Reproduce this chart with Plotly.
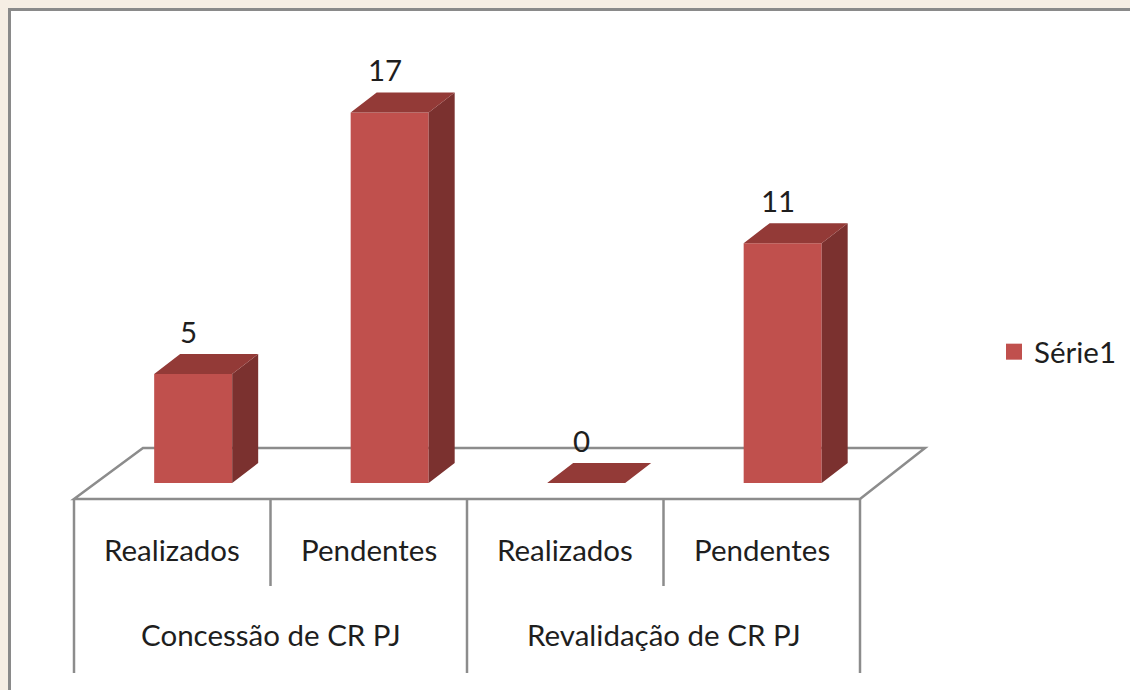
import plotly.graph_objects as go

# ---- data ----
groups = ["Concessão de CR PJ", "Revalidação de CR PJ"]
subcats = ["Realizados", "Pendentes", "Realizados", "Pendentes"]
values = [5, 17, 0, 11]
series_name = "Série1"

# ---- style / geometry ----
W, H = 1130, 690
FONT = "Lato"
FS = 29.5
TXT = "#1e1e1e"
FRONT = "#C0504D"
TOP = "#933A37"
SIDE = "#7B312F"
GRID = "#8c8c8c"

BAR_W = 0.397
BAR_OFF = -0.092
DX = 0.1323       # depth offset (x units)
DY = 0.917        # depth offset (y units)
FLOOR_FRONT = -0.734
FLOOR_BACK = 1.606
FLOOR_DXL, FLOOR_DXR = 0.351, 0.331
SUB_BOTTOM = -4.725
GRP_BOTTOM = -8.716
SUB_LABEL_Y = -3.07
GRP_LABEL_Y = -6.97

idx = list(range(len(values)))

fig = go.Figure()

# front faces
fig.add_trace(go.Bar(x=idx, y=values, width=BAR_W, offset=BAR_OFF,
                     marker=dict(color=FRONT, line=dict(width=0)),
                     showlegend=False, hoverinfo="skip"))

# top & side faces computed from the values
tx, ty, sx, sy = [], [], [], []
for i, v in zip(idx, values):
    l = i + BAR_OFF
    r = l + BAR_W
    tx += [l, r, r + DX, l + DX, l, None]
    ty += [v, v, v + DY, v + DY, v, None]
    if v > 0:
        sx += [r, r, r + DX, r + DX, r, None]
        sy += [0, v, v + DY, DY, 0, None]
fig.add_trace(go.Scatter(x=sx, y=sy, fill="toself", fillcolor=SIDE, mode="lines",
                         line=dict(width=0), showlegend=False, hoverinfo="skip"))
fig.add_trace(go.Scatter(x=tx, y=ty, fill="toself", fillcolor=TOP, mode="lines",
                         line=dict(width=0), showlegend=False, hoverinfo="skip"))

# legend entry
fig.add_trace(go.Scatter(x=[None], y=[None], mode="markers", name=series_name,
                         marker=dict(symbol="square", size=16, color=FRONT)))

shapes = []
# white chart box
shapes.append(dict(type="rect", xref="paper", yref="paper", layer="below",
                   x0=9.5 / W, x1=1.02, y0=-0.02, y1=1 - 9.5 / H,
                   fillcolor="white", line=dict(color="#8a8a8a", width=3)))
# floor
n = len(values)
x_l, x_r = -0.5, n - 0.5
shapes.append(dict(type="path", layer="below", xref="x", yref="y",
                   path=f"M{x_l},{FLOOR_FRONT} L{x_r},{FLOOR_FRONT} L{x_r + FLOOR_DXR},{FLOOR_BACK} "
                        f"L{x_l + FLOOR_DXL},{FLOOR_BACK} Z",
                   line=dict(color=GRID, width=2.5)))
# category table lines
per_group = n // len(groups)
for k in range(n + 1):
    xb = k - 0.5
    bottom = GRP_BOTTOM if k % per_group == 0 else SUB_BOTTOM
    shapes.append(dict(type="line", layer="below", xref="x", yref="y",
                       x0=xb, x1=xb, y0=FLOOR_FRONT, y1=bottom,
                       line=dict(color=GRID, width=2.5)))

annotations = []
for i, v in zip(idx, values):
    annotations.append(dict(x=i + 0.085, y=v, xref="x", yref="y", text=str(v),
                            showarrow=False, yshift=43, yanchor="middle",
                            font=dict(family=FONT, size=FS, color=TXT)))
for i, s in zip(idx, subcats):
    annotations.append(dict(x=i, y=SUB_LABEL_Y, xref="x", yref="y", text=s,
                            showarrow=False, yanchor="middle",
                            font=dict(family=FONT, size=FS, color=TXT)))
for g, name in enumerate(groups):
    xc = g * per_group + (per_group - 1) / 2
    annotations.append(dict(x=xc, y=GRP_LABEL_Y, xref="x", yref="y", text=name,
                            showarrow=False, yanchor="middle",
                            font=dict(family=FONT, size=FS, color=TXT)))

fig.update_layout(
    width=W, height=H, autosize=False,
    margin=dict(l=0, r=0, t=0, b=0, pad=0),
    paper_bgcolor="#f6eee4", plot_bgcolor="rgba(0,0,0,0)",
    xaxis=dict(range=[-172.25 / 196.5, (W - 172.25) / 196.5], visible=False, fixedrange=True),
    yaxis=dict(range=[-(H - 483) / 21.8, 483 / 21.8], visible=False, fixedrange=True),
    shapes=shapes, annotations=annotations,
    showlegend=True,
    legend=dict(x=994 / W, y=1 - 352 / H, xanchor="left", yanchor="middle",
                bgcolor="rgba(0,0,0,0)", font=dict(family=FONT, size=FS, color=TXT)),
    font=dict(family=FONT),
)

fig.write_html("out.html", config={"displayModeBar": False},
               post_script="document.body.style.margin='0';document.body.style.overflow='hidden';")
